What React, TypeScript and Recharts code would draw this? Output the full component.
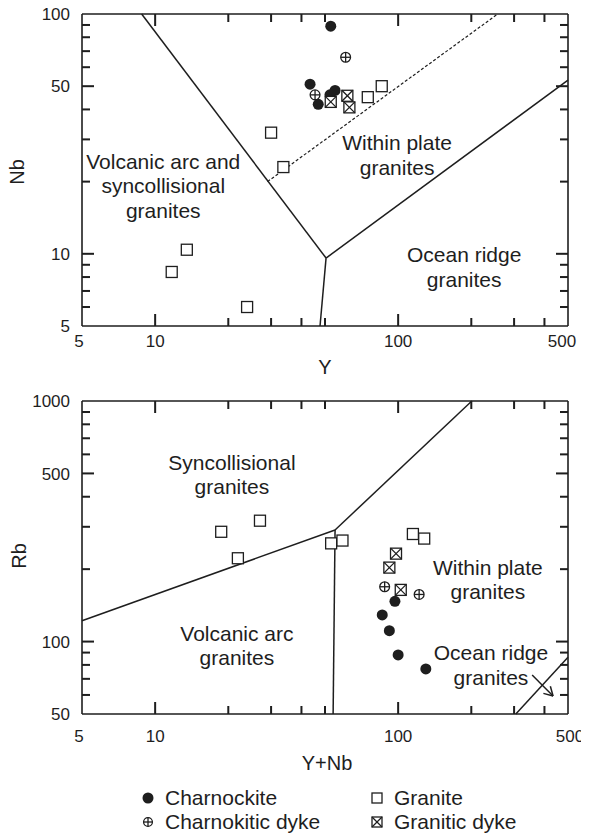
import React from "react";
import { ScatterChart, Scatter, XAxis, YAxis, ReferenceLine } from "recharts";

const FONT = '"Liberation Sans", Arial, Helvetica, sans-serif';
const INK = "#1e1e1e";

// ---------- Nb vs Y (upper diagram) ----------
const nbCharnockite = [
  { Y: 52.8, Nb: 89 },
  { Y: 43.4, Nb: 51 },
  { Y: 46.9, Nb: 42 },
  { Y: 52.4, Nb: 46 },
  { Y: 55, Nb: 48 },
];
const nbCharnokiticDyke = [
  { Y: 60.8, Nb: 66 },
  { Y: 45.5, Nb: 46 },
];
const nbGranite = [
  { Y: 75, Nb: 45 },
  { Y: 85.6, Nb: 50 },
  { Y: 33.7, Nb: 23 },
  { Y: 30, Nb: 32 },
  { Y: 13.5, Nb: 10.4 },
  { Y: 11.7, Nb: 8.4 },
  { Y: 23.9, Nb: 6 },
];
const nbGraniticDyke = [
  { Y: 52.8, Nb: 43 },
  { Y: 61.8, Nb: 45.6 },
  { Y: 63, Nb: 40.8 },
];
const nbBoundaries = [
  [{ x: 8.8, y: 100 }, { x: 50.5, y: 9.6 }],
  [{ x: 50.5, y: 9.6 }, { x: 47.7, y: 5 }],
  [{ x: 50.5, y: 9.6 }, { x: 500, y: 53 }],
];
const nbDashed = [{ x: 29, y: 20 }, { x: 257, y: 100 }];
const nbRegions = [
  { Y: 10.8, Nb: 19.2, lines: ["Volcanic arc and", "syncollisional", "granites"] },
  { Y: 99, Nb: 25.8, lines: ["Within plate", "granites"] },
  { Y: 187, Nb: 8.8, lines: ["Ocean ridge", "granites"] },
];

// ---------- Rb vs Y+Nb (lower diagram) ----------
const rbCharnockite = [
  { YNb: 97, Rb: 147 },
  { YNb: 86, Rb: 129 },
  { YNb: 92, Rb: 111 },
  { YNb: 100, Rb: 88 },
  { YNb: 130, Rb: 77 },
];
const rbCharnokiticDyke = [
  { YNb: 88, Rb: 169 },
  { YNb: 122, Rb: 157 },
];
const rbGranite = [
  { YNb: 18.7, Rb: 286 },
  { YNb: 27, Rb: 318 },
  { YNb: 21.9, Rb: 222 },
  { YNb: 53, Rb: 256 },
  { YNb: 59, Rb: 263 },
  { YNb: 115, Rb: 280 },
  { YNb: 128, Rb: 268 },
];
const rbGraniticDyke = [
  { YNb: 98, Rb: 232 },
  { YNb: 92, Rb: 203 },
  { YNb: 102.5, Rb: 164 },
];
const rbBoundaries = [
  [{ x: 5, y: 122 }, { x: 55, y: 291 }],
  [{ x: 55, y: 291 }, { x: 54, y: 50 }],
  [{ x: 55, y: 291 }, { x: 201, y: 1000 }],
  [{ x: 305, y: 50 }, { x: 500, y: 86 }],
  // arrow into ORG field
  [{ x: 356, y: 72.6 }, { x: 434, y: 59.4 }],
  [{ x: 434, y: 59.4 }, { x: 423, y: 65.2 }],
  [{ x: 434, y: 59.4 }, { x: 396, y: 60.9 }],
];
const rbRegions = [
  { YNb: 20.7, Rb: 495, lines: ["Syncollisional", "granites"] },
  { YNb: 234, Rb: 181, lines: ["Within plate", "granites"] },
  { YNb: 21.7, Rb: 96.3, lines: ["Volcanic arc", "granites"] },
  { YNb: 241, Rb: 80, lines: ["Ocean ridge", "granites"] },
];

// ---------- ticks ----------
const xLabels = [5, 10, 100, 500];
const xMinor = [20, 30, 40, 50, 200, 300, 400];
const xMajor = [10, 100];
const nbLabels = [5, 10, 50, 100];
const nbMinor = [6, 7, 8, 9, 20, 30, 40, 60, 70, 80, 90];
const nbMajor = [10, 50];
const rbLabels = [50, 100, 500, 1000];
const rbMinor = [60, 70, 80, 90, 200, 300, 400, 600, 700, 800, 900];
const rbMajor = [100, 500];

const MINOR_LEN = 8;
const MAJOR_LEN = 12;
const TICK_W = 2;

const labelStyle = { fontFamily: FONT, fontSize: 17, fill: INK };

const bottomLabel = (gap: number, nudge: Record<number, number>) => (props: any) => {
  const v = props.payload.value;
  return (
    <text x={props.x + (nudge[v] || 0)} y={props.y + gap} dy="0.36em" textAnchor="middle" style={labelStyle}>
      {v}
    </text>
  );
};
const leftLabel = (gap: number) => (props: any) => (
  <text x={props.x - gap} y={props.y} dy="0.36em" textAnchor="end" style={labelStyle}>
    {props.payload.value}
  </text>
);

// tick anchor points on the four frame edges; each is drawn as a short inward mark
function tickPoints(
  xKey: string,
  yKey: string,
  xDomain: number[],
  yDomain: number[],
  yMinor: number[],
  yMajor: number[]
) {
  const [x0, x1] = xDomain;
  const [y0, y1] = yDomain;
  const pts: any[] = [];
  const addX = (list: number[], len: number) =>
    list.forEach((v) => {
      pts.push({ [xKey]: v, [yKey]: y0, side: "b", len });
      pts.push({ [xKey]: v, [yKey]: y1, side: "t", len });
    });
  const addY = (list: number[], len: number) =>
    list.forEach((v) => {
      pts.push({ [xKey]: x0, [yKey]: v, side: "l", len });
      pts.push({ [xKey]: x1, [yKey]: v, side: "r", len });
    });
  addX(xMinor, MINOR_LEN);
  addX(xMajor, MAJOR_LEN);
  addY(yMinor, MINOR_LEN);
  addY(yMajor, MAJOR_LEN);
  return pts;
}

const tickShape = (p: any) => {
  const { side, len } = p.payload;
  const h = TICK_W / 2;
  if (side === "b") return <rect x={p.cx - h} y={p.cy - len} width={TICK_W} height={len} fill={INK} />;
  if (side === "t") return <rect x={p.cx - h} y={p.cy} width={TICK_W} height={len} fill={INK} />;
  if (side === "l") return <rect x={p.cx} y={p.cy - h} width={len} height={TICK_W} fill={INK} />;
  return <rect x={p.cx - len} y={p.cy - h} width={len} height={TICK_W} fill={INK} />;
};

type Kind = "charnockite" | "charnokiticDyke" | "granite" | "graniticDyke";

function Marker({ kind, cx, cy, s = 11 }: { kind: Kind; cx: number; cy: number; s?: number }) {
  const h = s / 2;
  const st = { stroke: INK, strokeWidth: 1.3 };
  if (kind === "charnockite") return <circle cx={cx} cy={cy} r={h} fill={INK} />;
  if (kind === "charnokiticDyke")
    return (
      <g>
        <circle cx={cx} cy={cy} r={h - 0.6} fill="#fff" {...st} />
        <line x1={cx - h + 0.6} y1={cy} x2={cx + h - 0.6} y2={cy} {...st} />
        <line x1={cx} y1={cy - h + 0.6} x2={cx} y2={cy + h - 0.6} {...st} />
      </g>
    );
  if (kind === "granite")
    return <rect x={cx - h} y={cy - h} width={s} height={s} fill="#fff" {...st} />;
  return (
    <g>
      <rect x={cx - h} y={cy - h} width={s} height={s} fill="#fff" {...st} />
      <line x1={cx - h} y1={cy - h} x2={cx + h} y2={cy + h} {...st} />
      <line x1={cx + h} y1={cy - h} x2={cx - h} y2={cy + h} {...st} />
    </g>
  );
}

const shapeOf = (kind: Kind) => (p: any) => <Marker kind={kind} cx={p.cx} cy={p.cy} />;

const regionShape = (p: any) => {
  const lines: string[] = p.payload.lines;
  const lh = 24.5;
  const top = p.cy - ((lines.length - 1) * lh) / 2;
  return (
    <text textAnchor="middle" style={{ fontFamily: FONT, fontSize: 21, fill: INK }}>
      {lines.map((t, i) => (
        <tspan key={i} x={p.cx} y={top + i * lh} dy="0.36em">
          {t}
        </tspan>
      ))}
    </text>
  );
};

const frame = { stroke: INK, strokeWidth: 1.6 };
const lineStyle = { stroke: INK, strokeWidth: 1.5 };

function Axes({ xKey, yKey, xDomain, yDomain, yLabels, xGap, xNudge }: any) {
  const common: any = { type: "number", scale: "log", allowDataOverflow: true, interval: 0 };
  return [
    <XAxis
      key="x"
      dataKey={xKey}
      {...common}
      domain={xDomain}
      ticks={xLabels}
      height={1}
      tickSize={0}
      tickMargin={0}
      axisLine={frame}
      tickLine={false}
      tick={bottomLabel(xGap, xNudge)}
    />,
    <YAxis
      key="y"
      dataKey={yKey}
      {...common}
      domain={yDomain}
      ticks={yLabels}
      width={1}
      tickSize={0}
      tickMargin={0}
      axisLine={frame}
      tickLine={false}
      tick={leftLabel(12)}
    />,
  ];
}

const nbTickPts = tickPoints("Y", "Nb", [5, 500], [5, 100], nbMinor, nbMajor);
const rbTickPts = tickPoints("YNb", "Rb", [5, 500], [50, 1000], rbMinor, rbMajor);

function NbYChart() {
  return (
    <ScatterChart width={596} height={390} margin={{ top: 14, right: 28, bottom: 63, left: 81 }}>
      {Axes({
        xKey: "Y",
        yKey: "Nb",
        xDomain: [5, 500],
        yDomain: [5, 100],
        yLabels: nbLabels,
        xGap: 15,
        xNudge: { 5: -3, 500: -6 },
      })}
      <ReferenceLine segment={[{ x: 5, y: 100 }, { x: 500, y: 100 }]} ifOverflow="visible" {...frame} />
      <ReferenceLine segment={[{ x: 500, y: 5 }, { x: 500, y: 100 }]} ifOverflow="visible" {...frame} />
      {nbBoundaries.map((seg, i) => (
        <ReferenceLine key={i} segment={seg} ifOverflow="visible" {...lineStyle} />
      ))}
      <ReferenceLine segment={nbDashed} ifOverflow="visible" stroke={INK} strokeWidth={1.2} strokeDasharray="3 2" />
      <Scatter data={nbTickPts} shape={tickShape} isAnimationActive={false} />
      <Scatter data={nbRegions} shape={regionShape} isAnimationActive={false} />
      <Scatter data={nbCharnokiticDyke} shape={shapeOf("charnokiticDyke")} isAnimationActive={false} />
      <Scatter data={nbCharnockite} shape={shapeOf("charnockite")} isAnimationActive={false} />
      <Scatter data={nbGraniticDyke} shape={shapeOf("graniticDyke")} isAnimationActive={false} />
      <Scatter data={nbGranite} shape={shapeOf("granite")} isAnimationActive={false} />
    </ScatterChart>
  );
}

function RbChart() {
  return (
    <ScatterChart width={596} height={400} margin={{ top: 21, right: 28, bottom: 65, left: 81 }}>
      {Axes({
        xKey: "YNb",
        yKey: "Rb",
        xDomain: [5, 500],
        yDomain: [50, 1000],
        yLabels: rbLabels,
        xGap: 22,
        xNudge: { 5: -3, 500: 2 },
      })}
      <ReferenceLine segment={[{ x: 5, y: 1000 }, { x: 500, y: 1000 }]} ifOverflow="visible" {...frame} />
      <ReferenceLine segment={[{ x: 500, y: 50 }, { x: 500, y: 1000 }]} ifOverflow="visible" {...frame} />
      {rbBoundaries.map((seg, i) => (
        <ReferenceLine key={i} segment={seg} ifOverflow="visible" {...lineStyle} />
      ))}
      <Scatter data={rbTickPts} shape={tickShape} isAnimationActive={false} />
      <Scatter data={rbRegions} shape={regionShape} isAnimationActive={false} />
      <Scatter data={rbCharnockite} shape={shapeOf("charnockite")} isAnimationActive={false} />
      <Scatter data={rbCharnokiticDyke} shape={shapeOf("charnokiticDyke")} isAnimationActive={false} />
      <Scatter data={rbGraniticDyke} shape={shapeOf("graniticDyke")} isAnimationActive={false} />
      <Scatter data={rbGranite} shape={shapeOf("granite")} isAnimationActive={false} />
    </ScatterChart>
  );
}

const legendItems: { kind: Kind; label: string; left: number; top: number }[] = [
  { kind: "charnockite", label: "Charnockite", left: 148, top: 798 },
  { kind: "granite", label: "Granite", left: 377, top: 798 },
  { kind: "charnokiticDyke", label: "Charnokitic dyke", left: 148, top: 822 },
  { kind: "graniticDyke", label: "Granitic dyke", left: 377, top: 822 },
];

function Title({ text, x, y, rotate = false }: { text: string; x: number; y: number; rotate?: boolean }) {
  return (
    <div
      style={{
        position: "absolute",
        left: x,
        top: y,
        transform: `translate(-50%, -50%)${rotate ? " rotate(-90deg)" : ""}`,
        fontSize: 20,
        lineHeight: "20px",
        whiteSpace: "nowrap",
      }}
    >
      {text}
    </div>
  );
}

export default function App() {
  return (
    <div
      style={{
        position: "absolute",
        left: 0,
        top: 0,
        width: 596,
        height: 839,
        background: "#fff",
        fontFamily: FONT,
        color: INK,
        overflow: "hidden",
      }}
    >
      <div style={{ position: "absolute", left: 0, top: 0 }}>
        <NbYChart />
      </div>
      <div style={{ position: "absolute", left: 0, top: 380, width: 581, overflow: "hidden" }}>
        <RbChart />
      </div>
      <Title text="Nb" x={17} y={172} rotate />
      <Title text="Y" x={325} y={367} />
      <Title text="Rb" x={19} y={556} rotate />
      <Title text="Y+Nb" x={327} y={763} />
      {legendItems.map((it) => (
        <div key={it.label}>
          <svg
            width={14}
            height={14}
            style={{ position: "absolute", left: it.left - 7, top: it.top - 7 }}
          >
            <Marker kind={it.kind} cx={7} cy={7} s={it.kind === "charnockite" ? 11 : 10} />
          </svg>
          <div
            style={{
              position: "absolute",
              left: it.left + 17,
              top: it.top,
              transform: "translateY(-50%)",
              fontSize: 21,
              lineHeight: "22px",
              whiteSpace: "nowrap",
            }}
          >
            {it.label}
          </div>
        </div>
      ))}
    </div>
  );
}
